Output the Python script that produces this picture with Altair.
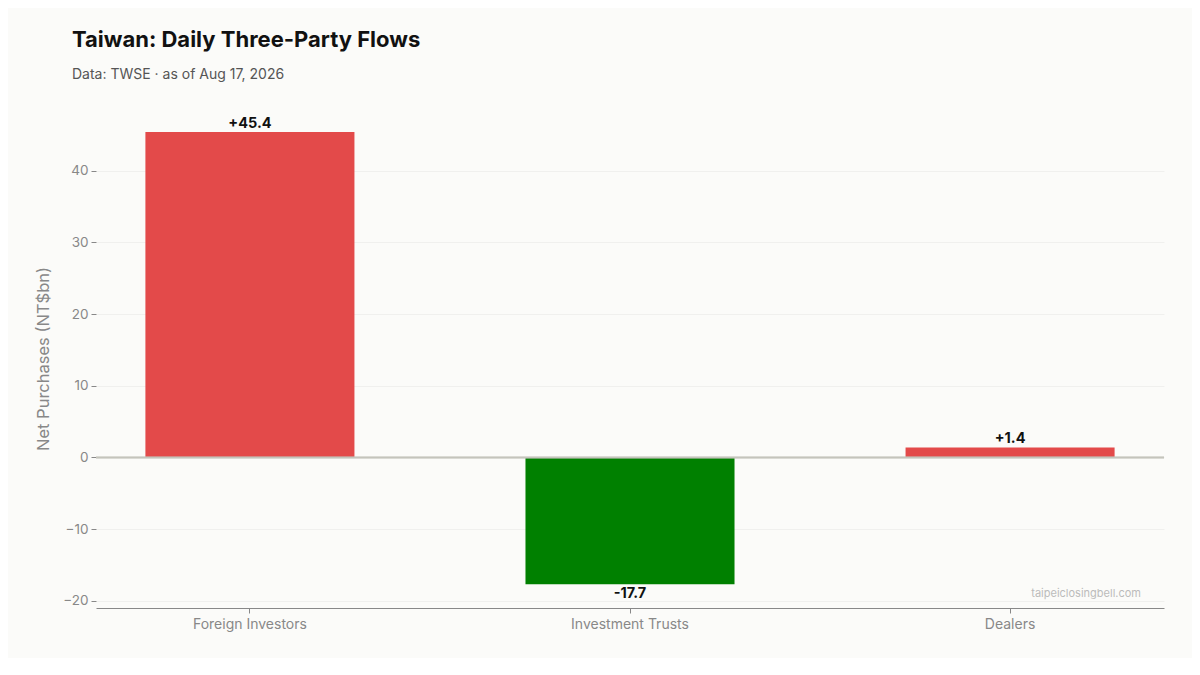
import altair as alt
import pandas as pd

groups = ["Foreign Investors", "Investment Trusts", "Dealers"]
net_bn = [45.4, -17.7, 1.4]
bar_colors = ["#e34a4a", "#008000", "#e34a4a"]

df = pd.DataFrame({"group": groups, "net": net_bn, "color": bar_colors})
df["label"] = df["net"].map(lambda v: f"{v:+.1f}")
df["pos"] = df["net"] >= 0

FONT = "Inter"

x_enc = alt.X("group:N", sort=groups, title=None,
              scale=alt.Scale(paddingInner=0.45, paddingOuter=0.13),
              axis=alt.Axis(labelAngle=0, labelFontSize=14, labelColor="#888888",
                            labelPadding=4, domainColor="#888888", tickColor="#888888",
                            tickSize=5, grid=False, labelFont=FONT))
y_scale = alt.Scale(domain=[-21, 48.6], nice=False, zero=False)

bars = alt.Chart(df).mark_bar().encode(
    x=x_enc,
    y=alt.Y("net:Q", scale=y_scale, title="Net Purchases (NT$bn)",
            axis=alt.Axis(values=[-20, -10, 0, 10, 20, 30, 40], labelFontSize=13.5,
                          labelColor="#888888", titleColor="#888888", titleFontSize=16.5,
                          titleFontWeight="normal", titleFont=FONT, labelFont=FONT,
                          tickColor="#888888", tickSize=5, labelPadding=3, domain=False,
                          gridColor="#f0f0ee", titlePadding=11)),
    color=alt.Color("color:N", scale=None),
)

zero = alt.Chart(df).mark_rule(color="#c4c4bc", strokeWidth=1.5).encode(y=alt.datum(0))

labels_up = alt.Chart(df).transform_filter("datum.pos").mark_text(
    baseline="bottom", dy=-1, fontSize=14.5, fontWeight="bold", color="#111111", font=FONT
).encode(x=alt.X("group:N", sort=groups), y="net:Q", text="label:N")

labels_down = alt.Chart(df).transform_filter("!datum.pos").mark_text(
    baseline="top", dy=3, fontSize=14.5, fontWeight="bold", color="#111111", font=FONT
).encode(x=alt.X("group:N", sort=groups), y="net:Q", text="label:N")

mark_src = pd.DataFrame({"t": ["taipeiclosingbell.com"]})
watermark = alt.Chart(mark_src).mark_text(
    align="right", baseline="middle", fontSize=11, color="#bbbbbb", font=FONT
).encode(x=alt.value(1045), y=alt.value(485), text="t:N")

chart = (bars + zero + labels_up + labels_down + watermark).properties(
    width=1068, height=499,
    autosize=alt.AutoSizeParams(type="none"),
    padding={"left": 88, "top": 101, "right": 28, "bottom": 50},
    background="#fbfbf9",
    title=alt.TitleParams(
        "Taiwan: Daily Three-Party Flows",
        subtitle="Data: TWSE · as of Aug 17, 2026",
        anchor="start", frame="group", dx=-24, offset=26,
        font=FONT, fontSize=22, fontWeight="bold", color="#111111",
        subtitleFont=FONT, subtitleFontSize=14, subtitleColor="#555555",
        subtitlePadding=16,
    ),
).configure_view(stroke=None)

chart.save("out.html", embed_options={"renderer": "svg", "actions": False})
